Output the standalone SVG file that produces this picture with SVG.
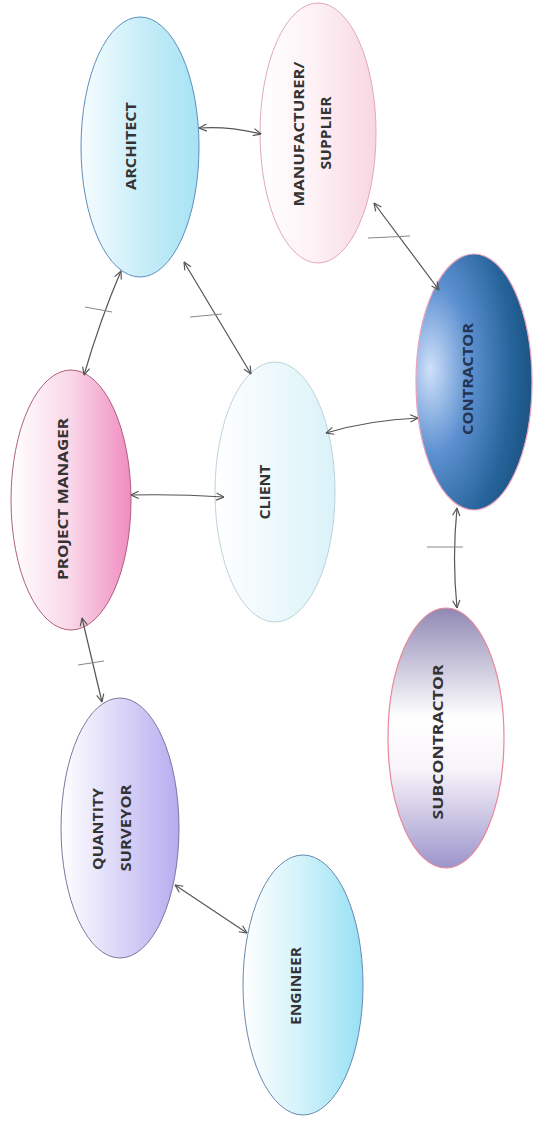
<svg xmlns="http://www.w3.org/2000/svg" width="533" height="1123" viewBox="0 0 533 1123">
<style>
.lbl{font-family:"Open Sans","Liberation Sans",sans-serif;font-weight:bold;font-size:15px;fill:#333;}
.con{fill:none;stroke:#555;stroke-width:1.2;marker-start:url(#ah);marker-end:url(#ah);}
.tick{fill:none;stroke:#888;stroke-width:1;}
</style>
<defs>
<marker id="ah" viewBox="0 0 10 10" refX="9.5" refY="5" markerWidth="9" markerHeight="9" markerUnits="userSpaceOnUse" orient="auto-start-reverse">
<path d="M1,1 L9.5,5 L1,9" fill="none" stroke="#555" stroke-width="1.3"/>
</marker>
<linearGradient id="gArch" x1="0" y1="0" x2="1" y2="0"><stop offset="0" stop-color="#f6fcfe"/><stop offset="0.5" stop-color="#c9eef8"/><stop offset="1" stop-color="#a6e2f4"/></linearGradient>
<linearGradient id="gMan" x1="0" y1="0" x2="1" y2="0"><stop offset="0" stop-color="#ffffff"/><stop offset="0.5" stop-color="#fdf0f4"/><stop offset="1" stop-color="#f7d6e2"/></linearGradient>
<radialGradient id="gCon" cx="0.18" cy="0.45" r="0.95" fx="0.12" fy="0.45"><stop offset="0" stop-color="#cfe0fa"/><stop offset="0.35" stop-color="#5c90d0"/><stop offset="0.7" stop-color="#25649a"/><stop offset="1" stop-color="#164874"/></radialGradient>
<linearGradient id="gCli" x1="0" y1="0" x2="1" y2="0"><stop offset="0" stop-color="#ffffff"/><stop offset="1" stop-color="#daf2f8"/></linearGradient>
<linearGradient id="gPM" x1="0" y1="0" x2="1" y2="0"><stop offset="0" stop-color="#ffffff"/><stop offset="0.5" stop-color="#f9d6e8"/><stop offset="1" stop-color="#f08cc0"/></linearGradient>
<linearGradient id="gSub" x1="0" y1="0" x2="0" y2="1"><stop offset="0" stop-color="#9088b4"/><stop offset="0.42" stop-color="#ffffff"/><stop offset="0.62" stop-color="#f8f4fa"/><stop offset="1" stop-color="#9c94cc"/></linearGradient>
<linearGradient id="gQS" x1="0" y1="0" x2="1" y2="0"><stop offset="0" stop-color="#ffffff"/><stop offset="1" stop-color="#b6acf0"/></linearGradient>
<linearGradient id="gEng" x1="0" y1="0" x2="1" y2="0"><stop offset="0" stop-color="#ffffff"/><stop offset="0.5" stop-color="#d0f2fa"/><stop offset="1" stop-color="#96e0f4"/></linearGradient>
</defs>
<rect width="533" height="1123" fill="#ffffff"/>

<g id="architect">
<ellipse cx="140" cy="147" rx="59" ry="130" fill="url(#gArch)" stroke="#5b8fc0" stroke-width="1"/>
<text class="lbl" text-anchor="middle" textLength="88" lengthAdjust="spacingAndGlyphs" transform="translate(136,146) rotate(-90)">ARCHITECT</text>
</g>
<g id="manufacturer">
<ellipse cx="318" cy="133" rx="58" ry="130" fill="url(#gMan)" stroke="#e2a8b8" stroke-width="1"/>
<text class="lbl" text-anchor="middle" textLength="145" lengthAdjust="spacingAndGlyphs" transform="translate(304,134) rotate(-90)">MANUFACTURER/</text>
<text class="lbl" text-anchor="middle" textLength="73" lengthAdjust="spacingAndGlyphs" transform="translate(331,133) rotate(-90)">SUPPLIER</text>
</g>
<g id="contractor">
<ellipse cx="474" cy="382" rx="58" ry="128" fill="url(#gCon)" stroke="#eaa2bc" stroke-width="1.2"/>
<text class="lbl" style="fill:#243450" text-anchor="middle" textLength="112" lengthAdjust="spacingAndGlyphs" transform="translate(473,379) rotate(-90)">CONTRACTOR</text>
</g>
<g id="client">
<ellipse cx="275" cy="492" rx="60" ry="130" fill="url(#gCli)" stroke="#bcd2de" stroke-width="1"/>
<text class="lbl" text-anchor="middle" textLength="55" lengthAdjust="spacingAndGlyphs" transform="translate(270,492) rotate(-90)">CLIENT</text>
</g>
<g id="project-manager">
<ellipse cx="71" cy="500" rx="60" ry="130" fill="url(#gPM)" stroke="#b0607c" stroke-width="1"/>
<text class="lbl" text-anchor="middle" textLength="162" lengthAdjust="spacingAndGlyphs" transform="translate(68,499) rotate(-90)">PROJECT MANAGER</text>
</g>
<g id="subcontractor">
<ellipse cx="446" cy="738" rx="58" ry="130" fill="url(#gSub)" stroke="#e88898" stroke-width="1.2"/>
<text class="lbl" text-anchor="middle" textLength="155" lengthAdjust="spacingAndGlyphs" transform="translate(443,742) rotate(-90)">SUBCONTRACTOR</text>
</g>
<g id="quantity-surveyor">
<ellipse cx="120" cy="828" rx="59" ry="130" fill="url(#gQS)" stroke="#7a78a0" stroke-width="1"/>
<text class="lbl" text-anchor="middle" textLength="82" lengthAdjust="spacingAndGlyphs" transform="translate(103,829) rotate(-90)">QUANTITY</text>
<text class="lbl" text-anchor="middle" textLength="87" lengthAdjust="spacingAndGlyphs" transform="translate(131,828) rotate(-90)">SURVEYOR</text>
</g>
<g id="engineer">
<ellipse cx="303" cy="985" rx="60" ry="130" fill="url(#gEng)" stroke="#6a88b0" stroke-width="1"/>
<text class="lbl" text-anchor="middle" textLength="78" lengthAdjust="spacingAndGlyphs" transform="translate(301,986) rotate(-90)">ENGINEER</text>
</g>

<g id="connectors">
<path class="con" d="M199,128 Q230,126 261,134"/>
<path class="con" d="M374,203 L439,290"/>
<line class="tick" x1="368" y1="238" x2="410" y2="236"/>
<path class="con" d="M121,271 Q100,320 84,375"/>
<line class="tick" x1="85" y1="307" x2="112" y2="312"/>
<path class="con" d="M184,262 L251,374"/>
<line class="tick" x1="190" y1="317" x2="222" y2="314"/>
<path class="con" d="M418,418 Q370,420 326,433"/>
<path class="con" d="M224,497 Q178,494 131,495"/>
<path class="con" d="M82,618 Q92,660 102,702"/>
<line class="tick" x1="78" y1="665" x2="104" y2="661"/>
<path class="con" d="M457,508 Q452,558 457,608"/>
<line class="tick" x1="427" y1="547" x2="463" y2="547"/>
<path class="con" d="M175,885 L247,933"/>
</g>
</svg>
